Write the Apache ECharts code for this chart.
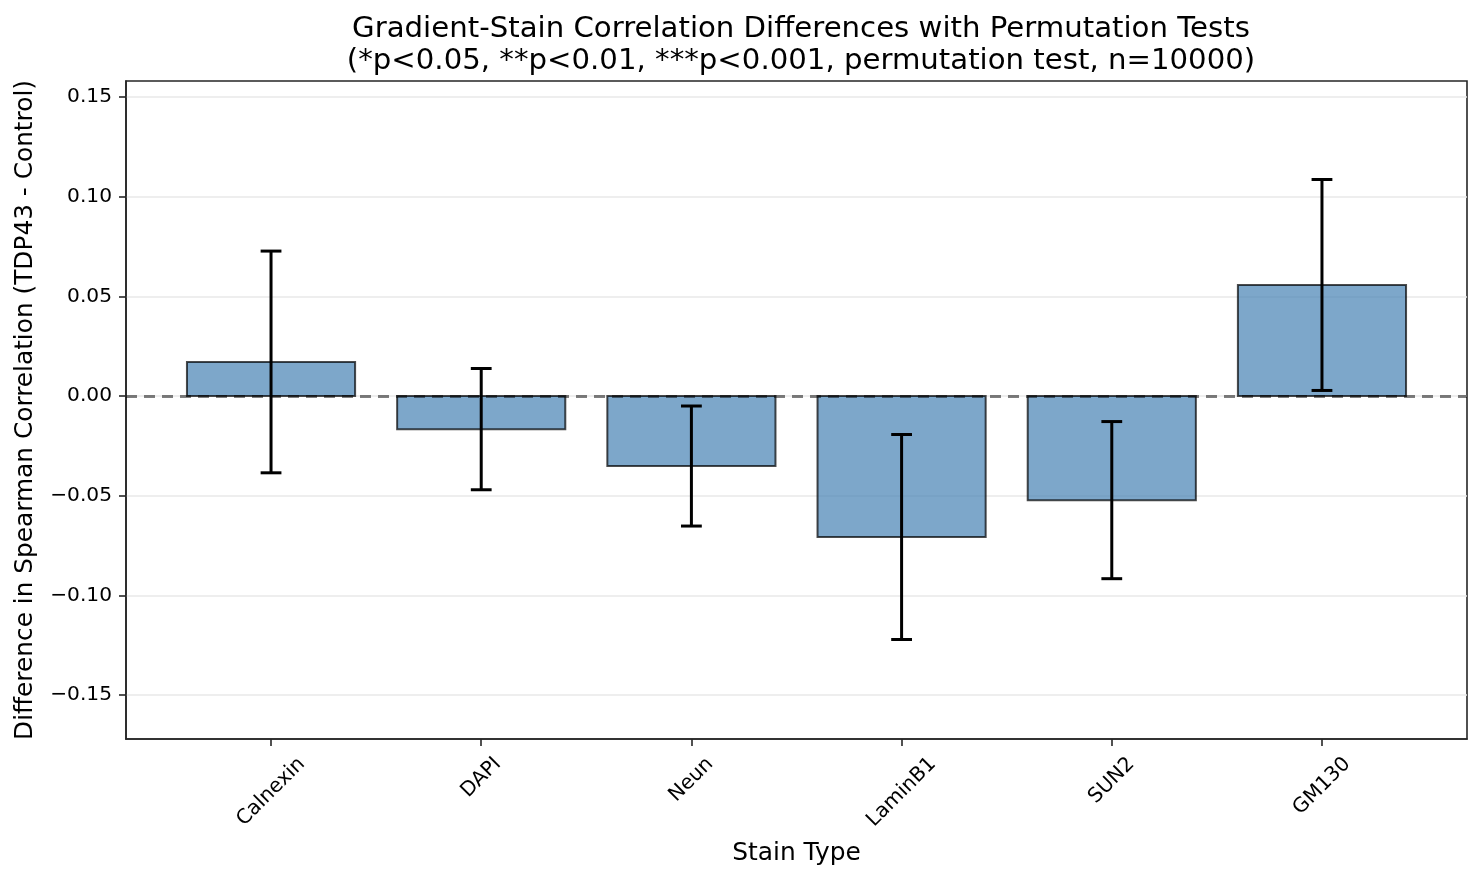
<!DOCTYPE html>
<html>
<head>
<meta charset="utf-8">
<script src="https://cdn.jsdelivr.net/npm/echarts@6/dist/echarts.min.js"></script>
<style>html,body{margin:0;padding:0;background:#fff;}#chart{width:1482px;height:879px;}</style>
</head>
<body>
<div id="chart"></div>
<script>
const categories = ['Calnexin', 'DAPI', 'Neun', 'LaminB1', 'SUN2', 'GM130'];
const diffs = [0.0171, -0.0166, -0.0351, -0.0707, -0.0522, 0.0557];
const errors = [0.0556, 0.0304, 0.0301, 0.0514, 0.0394, 0.0529];
const yTicks = [-0.15, -0.10, -0.05, 0.00, 0.05, 0.10, 0.15];
const titleText = 'Gradient-Stain Correlation Differences with Permutation Tests\n(*p<0.05, **p<0.01, ***p<0.001, permutation test, n=10000)';
const yName = 'Difference in Spearman Correlation (TDP43 - Control)';
const xName = 'Stain Type';

const FONT = 'DejaVu Sans';
const TICK_FS = 20.2;
const GRID = {left: 126, right: 15, top: 81, bottom: 140};
const X_MIN = -0.69, X_MAX = categories.length - 1 + 0.69;
const Y_MIN = -0.172, Y_MAX = 0.158;

// label anchor shift so rotated labels are centred on ticks (matplotlib ha='center')
const ctx = document.createElement('canvas').getContext('2d');
ctx.font = TICK_FS + 'px "' + FONT + '"';
const pxPerUnit = (1482 - GRID.left - GRID.right) / (X_MAX - X_MIN);
const labelValues = categories.map((c, i) => i + (ctx.measureText(c).width / (2 * Math.SQRT2)) / pxPerUnit);
const tickValues = categories.map((c, i) => i);

const barData = diffs.map((d, i) => [i, d]);
const errData = diffs.map((d, i) => [i, d - errors[i], d + errors[i]]);

const chart = echarts.init(document.getElementById('chart'), null, {renderer: 'canvas'});
const fmtY = v => (v < 0 ? '\u2212' : '') + Math.abs(v).toFixed(2);

chart.setOption({
  animation: false,
  backgroundColor: '#ffffff',
  textStyle: {fontFamily: FONT},
  title: {
    text: titleText,
    left: 796, top: 8, textAlign: 'center',
    textStyle: {fontFamily: FONT, fontSize: 29.2, fontWeight: 'normal', color: '#000', lineHeight: 32, align: 'center'}
  },
  grid: {left: GRID.left, right: GRID.right, top: GRID.top, bottom: GRID.bottom,
         show: true, borderColor: '#262626', borderWidth: 1.6, backgroundColor: 'transparent'},
  xAxis: {
    type: 'value', min: X_MIN, max: X_MAX,
    name: xName, nameLocation: 'middle', nameGap: 102,
    nameTextStyle: {fontFamily: FONT, fontSize: 24.9, color: '#000'},
    axisLine: {show: true, onZero: false, lineStyle: {color: '#262626', width: 1.6}},
    axisTick: {show: true, inside: false, customValues: tickValues, length: 7, lineStyle: {color: '#262626', width: 1.6}},
    axisLabel: {show: true, customValues: labelValues, rotate: 45, margin: 22,
                fontFamily: FONT, fontSize: TICK_FS, color: '#000', hideOverlap: false,
                formatter: v => categories[Math.round(v)]},
    splitLine: {show: false}
  },
  yAxis: {
    type: 'value', min: Y_MIN, max: Y_MAX,
    name: yName, nameLocation: 'middle', nameGap: 88, nameRotate: 90,
    nameTextStyle: {fontFamily: FONT, fontSize: 24.8, color: '#000'},
    axisLine: {show: true, onZero: false, lineStyle: {color: '#262626', width: 1.6}},
    axisTick: {show: true, inside: false, customValues: yTicks, length: 7, lineStyle: {color: '#262626', width: 1.6}},
    axisLabel: {show: true, customValues: yTicks, margin: 14, fontFamily: FONT, fontSize: TICK_FS, color: '#000',
                formatter: fmtY},
    splitLine: {show: true, lineStyle: {color: '#e8e8e8', width: 1.6}}
  },
  series: [
    {
      type: 'custom', name: 'bars', z: 2,
      data: barData,
      encode: {x: 0, y: 1},
      renderItem: function (params, api) {
        const x = api.value(0), y = api.value(1);
        const p0 = api.coord([x - 0.4, 0]);
        const p1 = api.coord([x + 0.4, y]);
        return {
          type: 'rect',
          shape: {x: p0[0], y: Math.min(p0[1], p1[1]), width: p1[0] - p0[0], height: Math.abs(p1[1] - p0[1])},
          style: {fill: 'rgba(70,130,180,0.7)', stroke: 'rgba(0,0,0,0.7)', lineWidth: 2}
        };
      }
    },
    {
      type: 'custom', name: 'errors', z: 3,
      data: errData,
      encode: {x: 0, y: [1, 2]},
      renderItem: function (params, api) {
        const x = api.value(0);
        const lo = api.coord([x, api.value(1)]);
        const hi = api.coord([x, api.value(2)]);
        const cap = 10.4;
        const st = {stroke: '#000', lineWidth: 3};
        return {
          type: 'group',
          children: [
            {type: 'line', shape: {x1: lo[0], y1: lo[1], x2: hi[0], y2: hi[1]}, style: st},
            {type: 'line', shape: {x1: lo[0] - cap, y1: lo[1], x2: lo[0] + cap, y2: lo[1]}, style: st},
            {type: 'line', shape: {x1: hi[0] - cap, y1: hi[1], x2: hi[0] + cap, y2: hi[1]}, style: st}
          ]
        };
      },
      markLine: {
        silent: true, symbol: 'none', label: {show: false},
        lineStyle: {color: 'rgba(0,0,0,0.5)', type: [11, 7], width: 3},
        data: [{yAxis: 0}]
      }
    }
  ]
});
</script>
</body>
</html>
